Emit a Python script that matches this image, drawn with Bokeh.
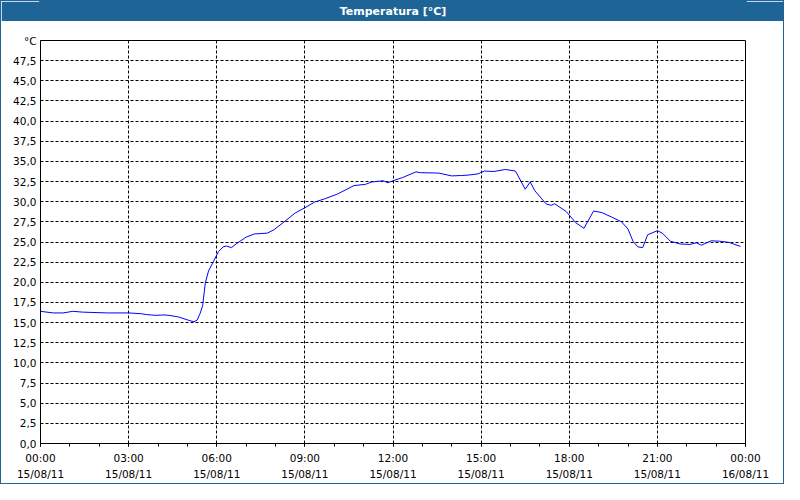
from bokeh.plotting import figure
from bokeh.models import Range1d, FixedTicker, Label
from bokeh.layouts import column
from bokeh.embed import file_html
from bokeh.resources import INLINE

TITLE = "Temperatura [°C]"

# time of day in hours (15/08/11 00:00 -> 16/08/11 00:00)
hours = [0.0, 0.43, 0.77, 1.1, 1.43, 2.27, 3.0, 3.43, 3.6, 3.93, 4.2, 4.37, 4.7,
         5.03, 5.22, 5.33, 5.43, 5.52, 5.61, 5.72, 5.89, 6.06, 6.22, 6.33, 6.5,
         6.67, 7.0, 7.28, 7.72, 7.94, 8.33, 8.67, 9.0, 9.33, 9.67, 10.11, 10.67,
         11.06, 11.28, 11.67, 11.83, 12.0, 12.33, 12.78, 12.94, 13.56, 14.0,
         14.33, 14.56, 14.89, 15.11, 15.44, 15.83, 16.17, 16.5, 16.67, 16.83,
         17.22, 17.39, 17.5, 17.89, 18.22, 18.5, 18.83, 19.11, 19.44, 19.78,
         20.0, 20.17, 20.33, 20.5, 20.67, 21.0, 21.17, 21.44, 21.78, 22.11,
         22.33, 22.5, 22.83, 23.11, 23.44, 23.83]
temps = [16.4, 16.2, 16.2, 16.4, 16.3, 16.2, 16.2, 16.1, 16.0, 15.9, 15.95, 15.9, 15.7,
         15.3, 15.1, 15.3, 16.1, 17.1, 19.9, 21.4, 22.6, 23.8, 24.4, 24.5, 24.3,
         24.8, 25.6, 26.0, 26.1, 26.5, 27.6, 28.6, 29.25, 29.95, 30.35, 30.95, 32.0,
         32.15, 32.45, 32.6, 32.35, 32.6, 33.0, 33.7, 33.6, 33.55, 33.2,
         33.25, 33.3, 33.45, 33.8, 33.75, 34.0, 33.8, 31.55, 32.45, 31.35,
         29.7, 29.55, 29.75, 28.8, 27.4, 26.7, 28.85, 28.65, 28.1, 27.5,
         26.6, 25.1, 24.4, 24.3, 25.9, 26.4, 26.1, 25.1, 24.75, 24.7,
         24.9, 24.6, 25.15, 25.1, 24.95, 24.45]

x_ticks = [0, 3, 6, 9, 12, 15, 18, 21, 24]
x_tick_labels = ["00:00\n15/08/11", "03:00\n15/08/11", "06:00\n15/08/11",
                 "09:00\n15/08/11", "12:00\n15/08/11", "15:00\n15/08/11",
                 "18:00\n15/08/11", "21:00\n15/08/11", "00:00\n16/08/11"]
x_minor_ticks = list(range(25))

y_ticks = [0, 2.5, 5, 7.5, 10, 12.5, 15, 17.5, 20, 22.5, 25, 27.5, 30, 32.5,
           35, 37.5, 40, 42.5, 45, 47.5, 50]
y_tick_labels = ["0,0", "2,5", "5,0", "7,5", "10,0", "12,5", "15,0", "17,5",
                 "20,0", "22,5", "25,0", "27,5", "30,0", "32,5", "35,0", "37,5",
                 "40,0", "42,5", "45,0", "47,5", "°C"]

BLUE_BAR = "#1E6496"
FONT = "DejaVu Sans"

# ---- title bar ----
tb = figure(width=782, height=20, x_range=Range1d(0, 1), y_range=Range1d(0, 1),
            toolbar_location=None, output_backend="svg",
            x_axis_location=None, y_axis_location=None,
            min_border=0, background_fill_color=BLUE_BAR,
            border_fill_color=BLUE_BAR, outline_line_color=BLUE_BAR,
            outline_line_width=3)
tb.grid.visible = False
tb.add_layout(Label(x=0.5, y=0.5, text=TITLE, text_align="center",
                    text_baseline="middle", text_color="white",
                    text_font=FONT, text_font_style="bold",
                    text_font_size="11px"))

# ---- main chart ----
p = figure(width=782, height=462, x_range=Range1d(0, 24), y_range=Range1d(0, 50),
           toolbar_location=None, output_backend="svg",
           min_border_left=39, min_border_right=38,
           min_border_top=19, min_border_bottom=39,
           background_fill_color="white", border_fill_color="white",
           outline_line_color="black", outline_line_width=1)

p.line(hours, temps, line_color="#0000FF", line_width=1)

def key(t):
    return int(t) if float(t).is_integer() else t

xa = p.xaxis[0]
xa.ticker = FixedTicker(ticks=x_ticks, minor_ticks=x_minor_ticks)
xa.major_label_overrides = {key(t): lab for t, lab in zip(x_ticks, x_tick_labels)}
xa.axis_line_color = "black"
xa.major_tick_in = 0
xa.major_tick_out = 3
xa.minor_tick_in = 0
xa.minor_tick_out = 3
xa.major_tick_line_color = "black"
xa.minor_tick_line_color = "black"
xa.major_label_standoff = 5
xa.major_label_text_font = FONT
xa.major_label_text_font_size = "10.5px"
xa.major_label_text_color = "black"
xa.major_label_text_line_height = 1.4

ya = p.yaxis[0]
ya.ticker = FixedTicker(ticks=y_ticks)
ya.major_label_overrides = {key(t): lab for t, lab in zip(y_ticks, y_tick_labels)}
ya.axis_line_color = "black"
ya.major_tick_in = 0
ya.major_tick_out = 0
ya.minor_tick_line_color = None
ya.major_label_standoff = 4
ya.major_label_text_font = FONT
ya.major_label_text_font_size = "10.5px"
ya.major_label_text_color = "black"
ya.major_label_text_baseline = "top"

p.xgrid.ticker = FixedTicker(ticks=x_ticks)
p.ygrid.ticker = FixedTicker(ticks=y_ticks)
for g in (p.xgrid[0], p.ygrid[0]):
    g.grid_line_color = "black"
    g.grid_line_dash = "3 2"
    g.grid_line_width = 1
    g.grid_line_alpha = 1.0

layout = column(tb, p, spacing=0,
                styles={"border": "1px solid " + BLUE_BAR})

open("out.html", "w").write(file_html(layout, INLINE))
